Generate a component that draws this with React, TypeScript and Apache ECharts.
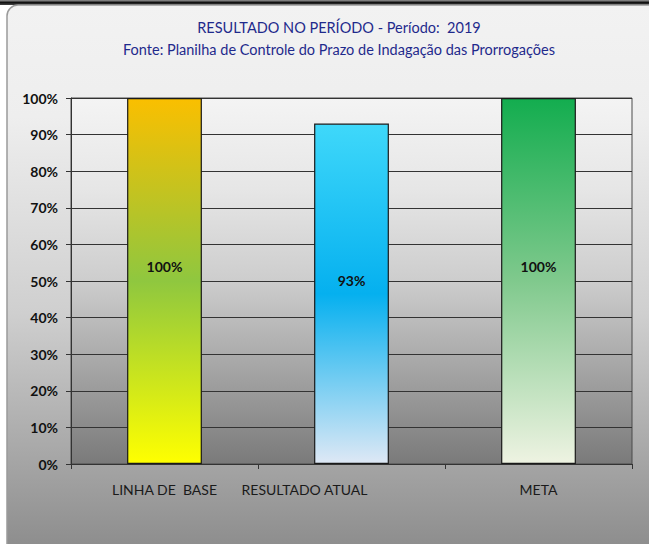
import React, { useEffect, useRef } from "react";
import * as echarts from "echarts";

const categories = ["LINHA DE  BASE", "RESULTADO ATUAL", "META"];
const values = [100, 93, 100];
const yTicks = [0, 10, 20, 30, 40, 50, 60, 70, 80, 90, 100];
const titleLines = [
  "RESULTADO NO PERÍODO - Período:  2019",
  "Fonte: Planilha de Controle do Prazo de Indagação das Prorrogações",
];
const barGradients = [
  ["#fabf00", "#8fc73f", "#ffff00"],
  ["#3fd8fa", "#05b0ef", "#dee8f5"],
  ["#13ad4f", "#80c98d", "#eef3e2"],
];

const FONT = "Lato, 'Open Sans', sans-serif";

function grad(stops: string[]) {
  return new echarts.graphic.LinearGradient(0, 0, 0, 1, [
    { offset: 0, color: stops[0] },
    { offset: 0.5, color: stops[1] },
    { offset: 1, color: stops[2] },
  ]);
}

export default function App() {
  const ref = useRef<HTMLDivElement>(null);
  useEffect(() => {
    if (!ref.current) return;
    const chart = echarts.init(ref.current, null, { renderer: "svg" });
    chart.setOption({
      animation: false,
      backgroundColor: "#ffffff",
      textStyle: { fontFamily: FONT },
      graphic: [
        {
          type: "rect",
          z: -10,
          silent: true,
          shape: { x: 0, y: 0, width: 649, height: 5 },
          style: {
            fill: new echarts.graphic.LinearGradient(0, 0, 0, 1, [
              { offset: 0, color: "#9a9a9a" },
              { offset: 0.5, color: "#111111" },
              { offset: 1, color: "#444444" },
            ]),
          },
        },
        {
          type: "rect",
          z: -9,
          silent: true,
          shape: { x: 7, y: 5, width: 660, height: 560, r: [11, 0, 0, 0] },
          style: {
            fill: new echarts.graphic.LinearGradient(0, 0, 0, 1, [
              { offset: 0, color: "#f2f2f2" },
              { offset: 0.2, color: "#eeeeee" },
              { offset: 0.55, color: "#cfcfcf" },
              { offset: 1, color: "#888888" },
            ]),
            stroke: "#9a9a9a",
            lineWidth: 1.5,
          },
        },
      ],
      title: {
        text: titleLines.join("\n"),
        left: 334,
        top: 11,
        textAlign: "center",
        textStyle: {
          fontFamily: FONT,
          fontSize: 14.5,
          fontWeight: "normal",
          color: "#1f2a8c",
          lineHeight: 22,
        },
      },
      grid: {
        left: 71,
        right: 17,
        top: 98,
        bottom: 80,
        show: true,
        borderColor: "#4a4a4a",
        borderWidth: 1,
        backgroundColor: new echarts.graphic.LinearGradient(0, 0, 0, 1, [
          { offset: 0, color: "#f4f4f4" },
          { offset: 0.25, color: "#e6e6e6" },
          { offset: 0.5, color: "#cdcdcd" },
          { offset: 1, color: "#7a7a7a" },
        ]),
      },
      xAxis: {
        type: "category",
        data: categories,
        axisLine: { show: true, lineStyle: { color: "#333", width: 1 } },
        axisTick: { show: true, length: 5, lineStyle: { color: "#333" } },
        axisLabel: {
          interval: 0,
          hideOverlap: false,
          margin: 18,
          fontFamily: FONT,
          fontSize: 14,
          color: "#1a1a1a",
          formatter: (v: string, i: number) =>
            i === 1 ? "{shift|" + v + "}" : v,
          rich: {
            shift: {
              fontFamily: FONT,
              fontSize: 14,
              color: "#1a1a1a",
              padding: [0, 94, 0, 0],
            },
          },
        },
      },
      yAxis: {
        type: "value",
        min: yTicks[0],
        max: yTicks[yTicks.length - 1],
        interval: 10,
        axisLine: { show: true, lineStyle: { color: "#333", width: 1 } },
        axisTick: { show: true, length: 5, lineStyle: { color: "#333" } },
        splitLine: { show: true, lineStyle: { color: "#333", width: 1 } },
        axisLabel: {
          margin: 13,
          fontFamily: FONT,
          fontSize: 14,
          fontWeight: "bold",
          color: "#111",
          formatter: (v: number) => v + "%",
        },
      },
      series: [
        {
          type: "bar",
          barWidth: "40%",
          data: values.map((v, i) => ({
            value: v,
            itemStyle: {
              color: grad(barGradients[i]),
              borderColor: "#1a1a1a",
              borderWidth: 1.2,
            },
          })),
          label: {
            show: true,
            position: ["50%", "46%"],
            align: "center",
            verticalAlign: "middle",
            fontFamily: FONT,
            fontSize: 14,
            fontWeight: "bold",
            color: "#111",
            formatter: (p: any) => p.value + "%",
          },
        },
      ],
    });
    return () => chart.dispose();
  }, []);
  return (
    <div
      ref={ref}
      style={{ position: "fixed", left: 0, top: 0, width: 649, height: 544 }}
    />
  );
}
